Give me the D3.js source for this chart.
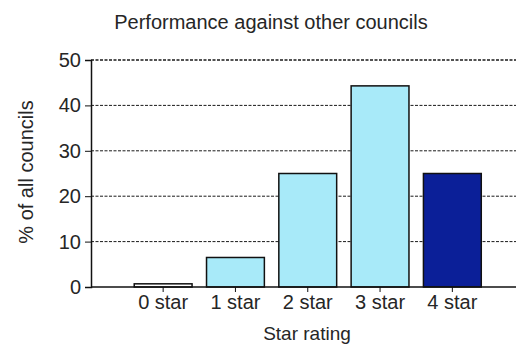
<!DOCTYPE html>
<html>
<head>
<meta charset="utf-8">
<script src="https://cdn.jsdelivr.net/npm/d3@7"></script>
<style>
  html, body { margin: 0; padding: 0; background: #fff; }
  svg { display: block; font-family: "Liberation Sans", Arial, sans-serif; }
</style>
</head>
<body>
<svg id="chart" width="516" height="346"></svg>
<script>
// Share of councils by star rating (%)
const categories = ["0 star", "1 star", "2 star", "3 star", "4 star"];
const values = [0.7, 6.5, 25, 44.3, 25];
const fills = ["#ffffff", "#a8eaf9", "#a8eaf9", "#a8eaf9", "#0b1f98"];
const yTicks = [0, 10, 20, 30, 40, 50];

const svg = d3.select("#chart");
const plot = { left: 91, right: 516, top: 60, bottom: 287 };
const textColor = "#262626";

const x = d3.scaleBand()
  .domain(categories)
  .range([127, 488.5])
  .paddingInner(0.2)
  .paddingOuter(0.1);

const y = d3.scaleLinear()
  .domain([0, 50])
  .range([plot.bottom, plot.top]);

// dashed horizontal gridlines
svg.append("g")
  .selectAll("line")
  .data(yTicks.filter(d => d > 0))
  .join("line")
  .attr("x1", plot.left)
  .attr("x2", plot.right)
  .attr("y1", d => y(d))
  .attr("y2", d => y(d))
  .attr("stroke", "#1a1a1a")
  .attr("stroke-width", d => d === 50 ? 1.6 : 1)
  .attr("stroke-dasharray", "3,1.5");

// bars
svg.append("g")
  .selectAll("rect")
  .data(categories)
  .join("rect")
  .attr("x", d => x(d))
  .attr("width", x.bandwidth())
  .attr("y", (d, i) => y(values[i]))
  .attr("height", (d, i) => y(0) - y(values[i]))
  .attr("fill", (d, i) => fills[i])
  .attr("stroke", "#111")
  .attr("stroke-width", 1.5);

// y axis
const yAxis = svg.append("g")
  .attr("transform", `translate(${plot.left},0)`)
  .call(d3.axisLeft(y).tickValues(yTicks).tickSize(6).tickPadding(4));
yAxis.select(".domain").attr("stroke", "#111").attr("stroke-width", 1.5);
yAxis.selectAll(".tick line").attr("stroke", "#111");
yAxis.selectAll("text")
  .attr("font-size", 20)
  .attr("fill", textColor)
  .attr("font-family", "Liberation Sans, Arial, sans-serif");

// x axis
const xAxis = svg.append("g")
  .attr("transform", `translate(0,${plot.bottom})`)
  .call(d3.axisBottom(x).tickSize(5).tickPadding(3).tickSizeOuter(0));
xAxis.select(".domain")
  .attr("d", `M${plot.left},0H${plot.right}`)
  .attr("stroke", "#111")
  .attr("stroke-width", 1.5);
xAxis.selectAll(".tick line").attr("stroke", "#111");
xAxis.selectAll("text")
  .attr("font-size", 20)
  .attr("fill", textColor)
  .attr("font-family", "Liberation Sans, Arial, sans-serif");

// title
svg.append("text")
  .attr("x", 271)
  .attr("y", 29)
  .attr("text-anchor", "middle")
  .attr("font-size", 20)
  .attr("fill", textColor)
  .text("Performance against other councils");

// axis titles
svg.append("text")
  .attr("transform", "translate(33,172) rotate(-90)")
  .attr("text-anchor", "middle")
  .attr("font-size", 20)
  .attr("fill", textColor)
  .text("% of all councils");

svg.append("text")
  .attr("x", 307)
  .attr("y", 340)
  .attr("text-anchor", "middle")
  .attr("font-size", 19)
  .attr("fill", textColor)
  .text("Star rating");
</script>
</body>
</html>
